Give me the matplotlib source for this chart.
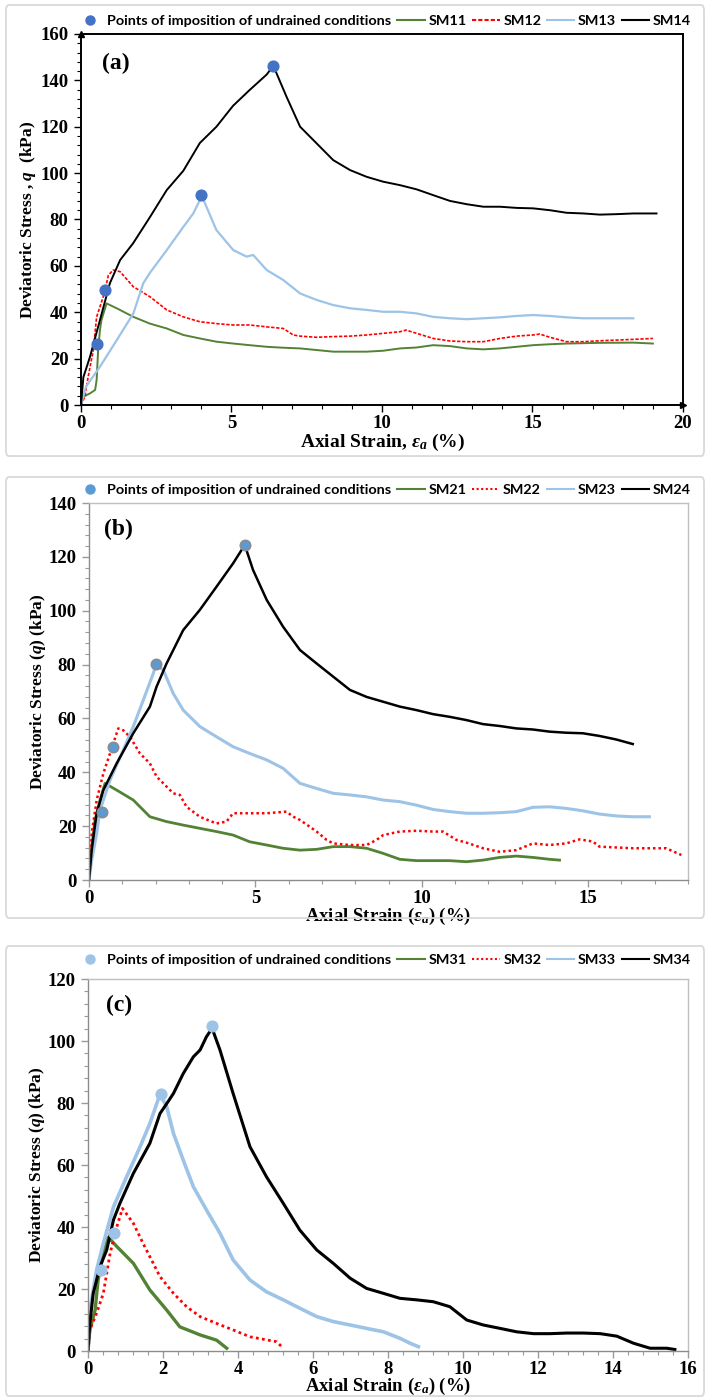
import matplotlib
matplotlib.use("Agg")
import matplotlib.pyplot as plt
from matplotlib.ticker import MultipleLocator
from matplotlib.lines import Line2D
from matplotlib.patches import FancyBboxPatch

plt.rcParams["mathtext.fontset"] = "custom"
plt.rcParams["mathtext.rm"] = "Liberation Serif:bold"
plt.rcParams["mathtext.it"] = "Liberation Serif:italic:bold"
plt.rcParams["mathtext.bf"] = "Liberation Serif:bold"

# ---------------- Series (a) ----------------
a_sm11_x = [0, 0.08, 0.3, 0.47, 0.52, 0.57, 0.63, 0.68, 0.85, 1.19, 1.74, 2.29, 2.85, 3.4, 3.95, 4.5, 5.06, 5.6, 6.17, 6.72, 7.28,
            7.83, 8.38, 8.94, 9.49, 10.04, 10.6, 11.15, 11.7, 12.26, 12.81, 13.37, 13.92, 14.47, 15.02, 15.58, 16.13, 17.24, 18.35, 19.0]
a_sm11_q = [0, 3.6, 5.0, 6.5, 10.8, 23.7, 32.3, 36.6, 43.8, 41.7, 38.0, 35.1, 33.0, 30.2, 28.7, 27.3, 26.5, 25.8, 25.1, 24.7, 24.4,
            23.7, 23.0, 23.0, 23.0, 23.4, 24.4, 24.8, 25.8, 25.4, 24.4, 24.0, 24.4, 25.1, 25.8, 26.2, 26.5, 26.8, 26.9, 26.5]

a_sm12_x = [0, 0.13, 0.24, 0.41, 0.52, 0.74, 0.85, 0.91, 1.07, 1.3, 1.74, 2.29, 2.85, 3.4, 3.95, 4.5, 5.06, 5.6, 6.17, 6.72, 7.05, 7.28,
            7.83, 8.38, 8.94, 9.49, 10.04, 10.6, 10.8, 11.15, 11.7, 12.26, 12.81, 13.37, 13.92, 14.47, 15.02, 15.24, 15.58, 16.13,
            16.69, 17.24, 17.8, 18.35, 19.0]
a_sm12_q = [0, 3.6, 12.2, 23.7, 38.0, 46.7, 52.4, 56.0, 58.2, 57.5, 51.0, 46.7, 41.0, 38.0, 35.9, 35.1, 34.5, 34.5, 33.7, 33.0, 30.2, 29.7,
            29.2, 29.5, 29.7, 30.2, 30.9, 31.6, 32.3, 30.9, 28.7, 27.6, 27.3, 27.3, 28.7, 29.7, 30.2, 30.6, 29.2, 27.3,
            27.3, 27.7, 28.0, 28.3, 28.7]

a_sm13_x = [0, 0.17, 0.63, 1.19, 1.74, 2.07, 2.29, 2.85, 3.4, 3.73, 3.95, 4.02, 4.5, 5.06, 5.5, 5.72, 6.17, 6.72, 7.28,
            7.83, 8.38, 8.94, 9.49, 10.04, 10.6, 11.15, 11.7, 12.26, 12.81, 13.37, 13.92, 14.47, 15.02, 15.58, 16.13, 16.69,
            17.24, 18.35]
a_sm13_q = [0, 8.0, 16.5, 28.0, 39.5, 52.5, 57.0, 66.8, 76.8, 82.6, 88.4, 90.0, 75.4, 66.8, 64.0, 64.7, 58.2, 53.9, 48.1,
            45.3, 43.1, 41.7, 41.0, 40.2, 40.2, 39.5, 38.0, 37.4, 37.0, 37.4, 37.8, 38.4, 38.8, 38.4, 37.8, 37.4,
            37.4, 37.4]

a_sm14_x = [0, 0.08, 0.3, 0.63, 0.96, 1.3, 1.73, 2.29, 2.85, 3.4, 3.95, 4.5, 5.05, 5.6, 6.17, 6.39, 6.83, 7.28,
            7.83, 8.38, 8.94, 9.49, 10.04, 10.6, 11.15, 11.7, 12.26, 12.81, 13.37, 13.92, 14.47, 15.02, 15.58, 16.13,
            16.69, 17.24, 17.8, 18.35, 19.12]
a_sm14_q = [0, 12.0, 20.8, 36.6, 52.5, 62.5, 69.7, 81.0, 92.7, 101.0, 113.0, 120.0, 129.0, 135.8, 142.5, 146.3, 132.9, 120.0,
            112.8, 105.6, 101.3, 98.4, 96.3, 94.8, 93.0, 90.5, 88.0, 86.6, 85.5, 85.5, 85.0, 84.8, 84.0, 82.9,
            82.6, 82.1, 82.3, 82.6, 82.6]

a_pts_x = [0.52, 0.8, 4.0, 6.39]
a_pts_q = [26.5, 49.5, 90.5, 146.3]

# ---------------- Series (b) ----------------
b_sm21_x = [0, 0.08, 0.18, 0.33, 0.48, 0.83, 1.33, 1.83, 2.33, 2.83, 3.33, 3.83, 4.33, 4.83, 5.34, 5.83, 6.34,
            6.84, 7.34, 7.84, 8.34, 8.84, 9.34, 9.84, 10.34, 10.84, 11.34, 11.84, 12.34, 12.84, 13.34, 13.84, 14.14]
b_sm21_q = [0, 12.4, 22.3, 29.7, 35.9, 33.4, 29.7, 23.5, 21.7, 20.4, 19.2, 18.0, 16.7, 14.2, 13.0, 11.8, 11.1,
            11.4, 12.4, 12.4, 11.8, 9.9, 7.7, 7.2, 7.2, 7.2, 6.8, 7.4, 8.4, 8.9, 8.4, 7.7, 7.4]

b_sm22_x = [0, 0.08, 0.23, 0.43, 0.63, 0.83, 0.88, 1.03, 1.23, 1.53, 1.83, 2.03, 2.33, 2.53, 2.73, 2.93, 3.33, 3.83, 4.13,
            4.33, 4.83, 5.34, 5.93, 6.14, 6.34, 6.84, 7.14, 7.34, 7.84, 8.34, 8.64, 8.84, 9.34, 9.84, 10.34, 10.64, 11.04,
            11.34, 11.84, 12.34, 12.84, 13.34, 13.84, 14.34, 14.74, 15.14, 15.34, 15.84, 16.34, 16.84, 17.34, 17.8]
b_sm22_q = [0, 17.3, 29.7, 39.6, 47.0, 54.5, 56.3, 55.6, 53.2, 47.0, 43.3, 38.4, 34.7, 32.2, 31.6, 27.2, 23.5, 21.0, 21.7,
            24.8, 24.8, 24.8, 25.4, 23.5, 22.3, 18.0, 14.9, 13.6, 13.0, 13.0, 14.9, 16.7, 18.0, 18.3, 18.0, 18.0, 14.9,
            13.9, 11.8, 10.5, 11.1, 13.6, 13.0, 13.6, 15.1, 14.3, 12.4, 12.1, 11.8, 11.8, 11.8, 9.3]

b_sm23_x = [0, 0.08, 0.23, 0.33, 0.63, 1.03, 1.33, 1.63, 1.93, 2.01, 2.23, 2.53, 2.83, 3.33, 3.83, 4.33, 4.83, 5.34, 5.83,
            6.34, 6.84, 7.34, 7.84, 8.34, 8.84, 9.34, 9.84, 10.34, 10.84, 11.34, 11.84, 12.34, 12.84, 13.34, 13.84, 14.34,
            14.84, 15.34, 15.84, 16.34, 16.84]
b_sm23_q = [0, 7.4, 17.3, 26.0, 37.1, 48.3, 57.0, 66.8, 76.7, 80.0, 78.0, 69.3, 63.1, 57.0, 53.2, 49.5, 47.0, 44.6, 41.5,
            35.9, 34.0, 32.2, 31.6, 30.9, 29.7, 29.1, 27.8, 26.2, 25.4, 24.8, 24.8, 25.0, 25.4, 27.0, 27.2, 26.6,
            25.7, 24.5, 23.8, 23.5, 23.5]

b_sm24_x = [0, 0.08, 0.23, 0.43, 0.83, 1.33, 1.83, 2.03, 2.33, 2.83, 3.33, 3.83, 4.33, 4.68, 4.93, 5.34, 5.83, 6.34,
            6.84, 7.34, 7.84, 8.34, 8.84, 9.34, 9.84, 10.34, 10.84, 11.34, 11.84, 12.34, 12.84, 13.34, 13.84, 14.34,
            14.84, 15.34, 15.84, 16.34]
b_sm24_q = [0, 11.1, 24.8, 33.4, 43.3, 54.5, 64.4, 71.8, 80.4, 92.8, 100.3, 108.9, 117.6, 124.4, 115.1, 104.0, 94.1, 85.4,
            80.4, 75.5, 70.6, 68.0, 66.2, 64.4, 63.1, 61.6, 60.6, 59.4, 57.9, 57.2, 56.3, 55.9, 55.1, 54.7,
            54.5, 53.5, 52.2, 50.5]

b_pts_x = [0.38, 0.71, 2.01, 4.68]
b_pts_q = [25.1, 49.4, 80.3, 124.4]

# ---------------- Series (c) ----------------
c_sm31_x = [0, 0.05, 0.19, 0.27, 0.41, 0.5, 0.55, 0.77, 1.21, 1.65, 2.1, 2.45, 2.99, 3.43, 3.7]
c_sm31_q = [0, 6.8, 13.2, 22.9, 31.5, 36.4, 36.6, 33.7, 28.3, 19.7, 13.2, 7.8, 5.2, 3.5, 0.9]

c_sm32_x = [0, 0.05, 0.23, 0.41, 0.59, 0.77, 0.92, 1.21, 1.47, 1.74, 1.92, 2.28, 2.63, 2.99, 3.43, 3.87, 4.32, 4.76,
            5.03, 5.21]
c_sm32_q = [0, 6.8, 12.2, 18.6, 31.5, 40.1, 46.0, 41.2, 34.7, 28.3, 24.0, 18.6, 14.3, 11.1, 8.9, 6.8, 4.6, 3.6,
            3.0, 0.9]

c_sm33_x = [0, 0.05, 0.23, 0.41, 0.68, 1.03, 1.39, 1.65, 1.92, 2.1, 2.28, 2.54, 2.81, 3.16, 3.52, 3.87, 4.32, 4.76,
            5.21, 5.65, 6.1, 6.54, 6.99, 7.43, 7.88, 8.32, 8.59, 8.81]
c_sm33_q = [0, 13.2, 26.1, 34.7, 46.5, 56.2, 65.9, 73.4, 82.8, 78.8, 70.2, 61.6, 53.0, 45.5, 38.0, 29.4, 22.9, 19.1,
            16.5, 13.8, 11.1, 9.5, 8.4, 7.3, 6.2, 4.1, 2.5, 1.4]

c_sm34_x = [0, 0.05, 0.14, 0.32, 0.5, 0.68, 0.85, 1.21, 1.65, 1.92, 2.1, 2.28, 2.54, 2.81, 2.99, 3.16, 3.31, 3.52,
            3.87, 4.32, 4.76, 5.21, 5.65, 6.1, 6.54, 6.99, 7.43, 7.88, 8.32, 8.77, 9.21, 9.65, 10.1, 10.54, 10.99,
            11.43, 11.88, 12.32, 12.77, 13.21, 13.66, 14.1, 14.55, 14.99, 15.43, 15.65]
c_sm34_q = [0, 8.9, 18.6, 27.2, 32.6, 42.3, 47.6, 57.3, 67.0, 76.6, 79.8, 83.1, 89.5, 94.9, 97.1, 101.4, 104.1, 97.1,
            83.1, 65.9, 56.2, 47.6, 39.0, 32.6, 28.3, 23.5, 20.2, 18.6, 17.0, 16.5, 15.9, 14.3, 10.0, 8.4, 7.3,
            6.2, 5.6, 5.6, 5.8, 5.8, 5.6, 4.8, 2.5, 0.9, 0.9, 0.5]

c_pts_x = [0.36, 0.7, 1.94, 3.32]
c_pts_q = [26.1, 38.2, 83.0, 105.0]

GREEN = "#548235"
RED = "#FF0000"
LBLUE = "#9DC3E6"
BLACK = "#000000"

SERIF = "Liberation Serif"
LEG_FONT = {"family": "Lato", "weight": "bold", "size": 10.4}
TICK_SIZE = 13.5

fig = plt.figure(figsize=(7.06, 13.98), dpi=100)

# light grey chart-area frames
for y0, h in [(0.6738, 0.3226), (0.3433, 0.3155), (0.0014, 0.3219)]:
    fig.patches.append(FancyBboxPatch((0.0085, y0), 0.9887, h, boxstyle="round,pad=0,rounding_size=0.004",
                                      transform=fig.transFigure, fill=False, edgecolor="#D9D9D9", lw=1.3))

def style_axes(ax, xmax, xmaj, xmin, ymax, ymaj, ymin, spine_color, tick_color, spine_lw):
    ax.set_xlim(0, xmax)
    ax.set_ylim(0, ymax)
    ax.xaxis.set_major_locator(MultipleLocator(xmaj))
    ax.xaxis.set_minor_locator(MultipleLocator(xmin))
    ax.yaxis.set_major_locator(MultipleLocator(ymaj))
    ax.yaxis.set_minor_locator(MultipleLocator(ymin))
    for s in ax.spines.values():
        s.set_color(spine_color)
        s.set_linewidth(spine_lw)
    ax.tick_params(which="major", direction="out", length=5, width=1, color=tick_color)
    ax.tick_params(axis="x", which="major", pad=2)
    ax.tick_params(axis="y", which="major", pad=4)
    ax.tick_params(which="minor", direction="out", length=3, width=0.8, color=tick_color)
    ax.tick_params(top=False, right=False, which="both")
    for lab in ax.get_xticklabels() + ax.get_yticklabels():
        lab.set_fontfamily(SERIF)
        lab.set_fontweight("bold")
        lab.set_fontsize(TICK_SIZE)

def set_labels(ax, xlabel, ylabel, xsize, ylab_x, xlab_y):
    ax.set_ylabel(ylabel, fontfamily=SERIF, fontweight="bold", fontsize=12.5)
    ax.set_xlabel(xlabel, fontfamily=SERIF, fontweight="bold", fontsize=xsize)
    ax.yaxis.set_label_coords(ylab_x, 0.5)
    ax.xaxis.set_label_coords(0.5, xlab_y)
    ax.xaxis.label.set_va("top")
    ax.yaxis.label.set_va("center")

def add_legend(ax, names, pt_color, pt_edge, ybox, dashes):
    handles = [Line2D([], [], ls="none", marker="o", ms=6.5, mfc=pt_color, mec=pt_edge)]
    colors = [GREEN, RED, LBLUE, BLACK]
    for c, ls in zip(colors, ["-", dashes, "-", "-"]):
        handles.append(Line2D([], [], color=c, lw=1.5, ls=ls))
    labels = ["Points of imposition of undrained conditions"] + names
    fig.legend(handles, labels, loc="center left", bbox_to_anchor=(0.108, ybox), bbox_transform=fig.transFigure,
               ncol=5, frameon=False, prop=LEG_FONT, handlelength=1.9, handletextpad=0.25, columnspacing=0.4,
               borderpad=0, borderaxespad=0)

# ---------------- Panel (a) ----------------
axa = fig.add_axes([0.1147, 0.7103, 0.8527, 0.2654])
axa.plot(a_sm11_x, a_sm11_q, color=GREEN, lw=1.4)
axa.plot(a_sm12_x, a_sm12_q, color=RED, lw=1.2, ls=(0, (2, 1)))
axa.plot(a_sm13_x, a_sm13_q, color=LBLUE, lw=1.6)
axa.plot(a_sm14_x, a_sm14_q, color=BLACK, lw=1.4)
axa.scatter(a_pts_x, a_pts_q, s=60, color="#4472C4", zorder=5)
style_axes(axa, 20, 5, 1, 160, 20, 4, "black", "black", 1.4)
axa.plot(0, 1, marker="^", color="black", ms=4, transform=axa.transAxes, clip_on=False)
axa.plot(1, 0, marker=">", color="black", ms=4, transform=axa.transAxes, clip_on=False)
axa.text(0.035, 0.905, "(a)", transform=axa.transAxes, fontfamily=SERIF, fontweight="bold", fontsize=17)
set_labels(axa, "Axial Strain, $\\varepsilon_a$ (%)", "Deviatoric Stress , $q$  (kPa)", 14, -0.088, -0.072)
add_legend(axa, ["SM11", "SM12", "SM13", "SM14"], "#4472C4", "#4472C4", 1 - 21 / 1398, (0, (2, 1)))

# ---------------- Panel (b) ----------------
axb = fig.add_axes([0.1261, 0.3705, 0.8484, 0.2697])
axb.plot(b_sm21_x, b_sm21_q, color=GREEN, lw=2.0)
axb.plot(b_sm22_x, b_sm22_q, color=RED, lw=1.8, ls=(0, (1, 1.2)))
axb.plot(b_sm23_x, b_sm23_q, color=LBLUE, lw=2.2)
axb.plot(b_sm24_x, b_sm24_q, color=BLACK, lw=1.8)
axb.scatter(b_pts_x, b_pts_q, s=55, color="#5B9BD5", edgecolors="#8C8C8C", linewidths=1.2, zorder=5)
style_axes(axb, 18, 5, 1, 140, 20, 4, "#BFBFBF", "#9A9A9A", 1.0)
axb.spines["left"].set_color("#8C8C8C")
axb.spines["bottom"].set_color("#8C8C8C")
axb.text(0.025, 0.915, "(b)", transform=axb.transAxes, fontfamily=SERIF, fontweight="bold", fontsize=17)
set_labels(axb, "Axial Strain ($\\varepsilon_a$) (%)", "Deviatoric Stress ($q$) (kPa)", 13.5, -0.085, -0.069)
add_legend(axb, ["SM21", "SM22", "SM23", "SM24"], "#5B9BD5", "#5B9BD5", 1 - 490 / 1398, (0, (1, 1.2)))

# ---------------- Panel (c) ----------------
axc = fig.add_axes([0.1246, 0.0336, 0.8499, 0.2661])
axc.plot(c_sm31_x, c_sm31_q, color=GREEN, lw=2.4)
axc.plot(c_sm32_x, c_sm32_q, color=RED, lw=2.0, ls=(0, (1, 1.2)))
axc.plot(c_sm33_x, c_sm33_q, color=LBLUE, lw=2.6)
axc.plot(c_sm34_x, c_sm34_q, color=BLACK, lw=2.2)
axc.scatter(c_pts_x, c_pts_q, s=60, color=LBLUE, zorder=5)
style_axes(axc, 16, 2, 0.4, 120, 20, 4, "#BFBFBF", "#9A9A9A", 1.0)
axc.spines["left"].set_color("#8C8C8C")
axc.spines["bottom"].set_color("#8C8C8C")
axc.text(0.03, 0.915, "(c)", transform=axc.transAxes, fontfamily=SERIF, fontweight="bold", fontsize=17)
set_labels(axc, "Axial Strain ($\\varepsilon_a$) (%)", "Deviatoric Stress ($q$) (kPa)", 13.5, -0.085, -0.068)
add_legend(axc, ["SM31", "SM32", "SM33", "SM34"], LBLUE, LBLUE, 1 - 960 / 1398, (0, (1, 1.2)))

fig.savefig("out.png", dpi=100)
